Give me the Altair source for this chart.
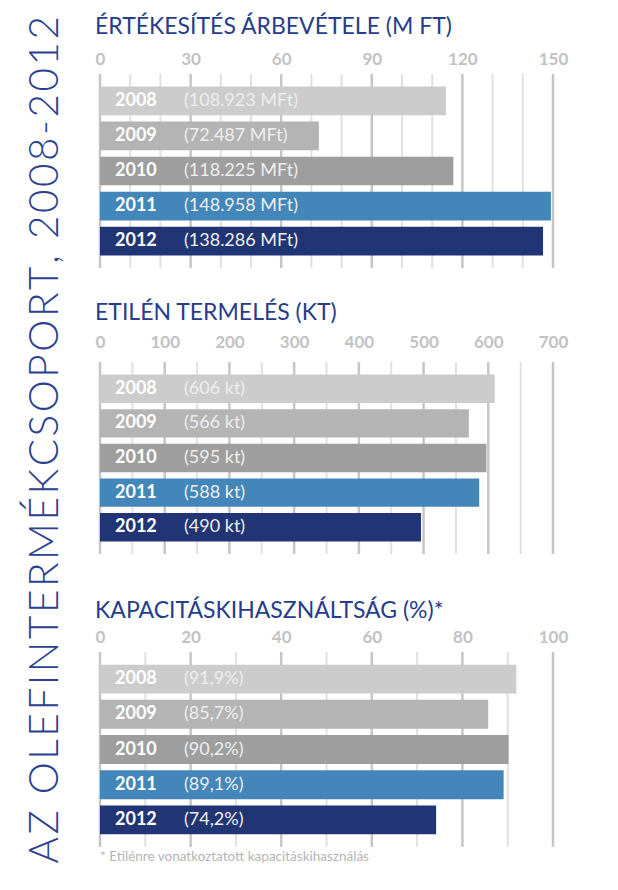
import altair as alt
import pandas as pd

years = ["2008", "2009", "2010", "2011", "2012"]
colors = ["#cbcccb", "#b3b4b3", "#9d9e9d", "#4386b9", "#213575"]

# Panel 1: revenue (bar lengths as drawn in the picture, labels as printed)
rev_title = "ÉRTÉKESÍTÉS ÁRBEVÉTELE (M FT)"
rev_bar = [114.6, 72.5, 117.0, 149.3, 146.7]
rev_labels = ["(108.923 MFt)", "(72.487 MFt)", "(118.225 MFt)", "(148.958 MFt)", "(138.286 MFt)"]
rev_max = 150
rev_major = [0, 30, 60, 90, 120, 150]
rev_minor = [10, 20, 40, 50, 70, 80, 100, 110, 130, 140]

# Panel 2: ethylene production
eth_title = "ETILÉN TERMELÉS (KT)"
eth_bar = [610, 570, 597, 586, 496]
eth_labels = ["(606 kt)", "(566 kt)", "(595 kt)", "(588 kt)", "(490 kt)"]
eth_max = 700
eth_major = [0, 100, 200, 300, 400, 500, 600, 700]
eth_minor = [50, 150, 250, 350, 450, 550, 650]

# Panel 3: capacity utilisation
cap_title = "KAPACITÁSKIHASZNÁLTSÁG (%)*"
cap_bar = [91.9, 85.7, 90.2, 89.1, 74.2]
cap_labels = ["(91,9%)", "(85,7%)", "(90,2%)", "(89,1%)", "(74,2%)"]
cap_max = 100
cap_major = [0, 20, 40, 60, 80, 100]
cap_minor = [10, 30, 50, 70, 90]

side_title = "AZ OLEFINTERMÉKCSOPORT, 2008-2012"
footnote = "* Etilénre vonatkoztatott kapacitáskihasználás"

FONT = "Lato"
W = 453


def panel(title, vals, labels, xmax, majors, minors, h, label_pad, title_off, note=None):
    df = pd.DataFrame({"year": years, "value": vals, "label": labels})
    xs = alt.Scale(domain=[0, xmax], nice=False, zero=True)
    ax = alt.Axis(
        orient="top", values=majors, grid=False, domain=False, ticks=False,
        tickSize=0, labelPadding=label_pad, labelFontSize=17, labelFont=FONT,
        labelFontWeight="bold", labelColor="#c2c2c2", title=None,
        labelFlush=False,
    )
    gmin = alt.Chart(pd.DataFrame({"t": minors})).mark_rule(
        color="#e1e1e1", strokeWidth=2
    ).encode(x=alt.X("t:Q", scale=xs, axis=ax))
    gmaj = alt.Chart(pd.DataFrame({"t": majors})).mark_rule(
        color="#c6c6c6", strokeWidth=2.5
    ).encode(x=alt.X("t:Q", scale=xs, axis=ax))
    y = alt.Y("year:N", sort=years,
              scale=alt.Scale(paddingInner=0.18, paddingOuter=0.36), axis=None)
    bars = alt.Chart(df).mark_bar().encode(
        x=alt.X("value:Q", scale=xs, axis=ax),
        y=y,
        color=alt.Color("year:N", scale=alt.Scale(domain=years, range=colors), legend=None),
    )
    yt = alt.Chart(df).mark_text(
        align="left", baseline="middle", font=FONT, fontSize=18,
        fontWeight="bold", color="white"
    ).encode(x=alt.value(15), y=y, text="year:N")
    vt = alt.Chart(df).mark_text(
        align="left", baseline="middle", font=FONT, fontSize=18, color="#eeeeee"
    ).encode(x=alt.value(84), y=y, text="label:N")
    layers = [gmin, gmaj, bars, yt, vt]
    if note is not None:
        nt = alt.Chart(pd.DataFrame({"t": [note]})).mark_text(
            align="left", baseline="top", font=FONT, fontSize=13.5, color="#b5b5b5"
        ).encode(x=alt.value(0), y=alt.value(h + 3), text="t:N")
        layers.append(nt)
    return alt.layer(*layers).properties(
        width=W, height=h,
        title=alt.TitleParams(title, anchor="start", font=FONT, fontSize=23,
                              fontWeight="normal", color="#263c8c", offset=title_off),
    )


p1 = panel(rev_title, rev_bar, rev_labels, rev_max, rev_major, rev_minor, 194, 6, 11)
p2 = panel(eth_title, eth_bar, eth_labels, eth_max, eth_major, eth_minor, 192, 11, 8)
p3 = panel(cap_title, cap_bar, cap_labels, cap_max, cap_major, cap_minor, 195, 6, 5, note=footnote)

spaced_title = "\u200a".join(side_title)

chart = alt.vconcat(
    p1, alt.vconcat(p2, p3, spacing=44), spacing=32
).properties(
    title=alt.TitleParams(spaced_title, orient="left", anchor="middle", font=FONT,
                          fontSize=40.5, fontWeight=300, color="#2d4190", offset=29),
    padding={"left": 17, "top": 7, "right": 5, "bottom": 5},
).configure_view(stroke=None)

chart.save("out.html", embed_options={"renderer": "svg", "actions": False})
